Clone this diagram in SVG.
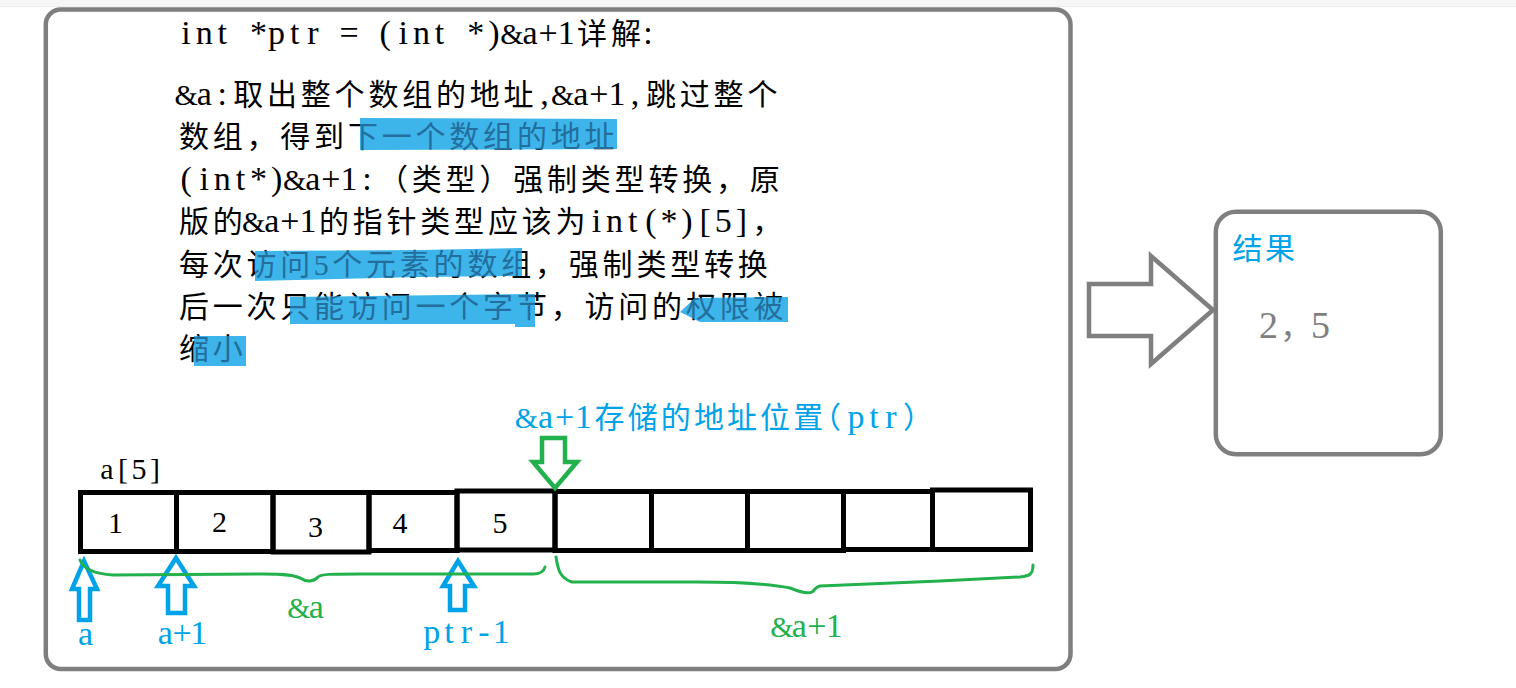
<svg xmlns="http://www.w3.org/2000/svg" xmlns:xlink="http://www.w3.org/1999/xlink" width="1516" height="688" viewBox="0 0 1516 688">
<style>
.t{font-family:"Liberation Serif","Noto Sans CJK SC",serif;font-size:30px;text-anchor:middle}
.lat{font-size:34px}
.amp{font-size:30px}
.box{fill:#fff;stroke:#7f7f7f;stroke-width:4.5}
.cell{fill:none;stroke:#000;stroke-width:5}
.barrow{fill:#fff;stroke:#00a2e8;stroke-width:4.5;stroke-linejoin:miter}
.garrow{fill:#fff;stroke:#22b14c;stroke-width:4.5;stroke-linejoin:miter}
.gray{fill:#fff;stroke:#7f7f7f;stroke-width:4.5;stroke-linejoin:miter}
.brace{fill:none;stroke:#22b14c;stroke-width:3;stroke-linejoin:round;stroke-linecap:round}
.hl{fill:#3db5ea}
.blue{fill:#00a2e8}
.green{fill:#22b14c}
</style>
<defs>
<path id="h1" d="M360,118 L617,119 L617,149 L360,150 Z"/>
<path id="h2" d="M255,251 L420,250 L522,248 L522,276 L420,277 L255,281 Z"/>
<path id="h3" d="M290,297 L535,294 L535,327 L515,327 L515,324 L290,324 Z"/>
<path id="h4" d="M680,312 L695,298 L788,297 L788,322 L700,322 Z"/>
<path id="h5" d="M194,336 L246,336 L246,366 L194,366 Z"/>
<clipPath id="hlc">
<use xlink:href="#h1"/><use xlink:href="#h2"/><use xlink:href="#h3"/><use xlink:href="#h4"/><use xlink:href="#h5"/>
</clipPath>
<g id="para">
<text class="t" y="43.5"><tspan class="lat" x="186.1 204.2 222.3 240.4 258.5 276.6 294.7 312.8 330.9 349 367.1 385.2 403.3 421.4 439.5 457.6 475.7 493.8 511.9 530 548.1 566.2">int *ptr = (int *)<tspan class="amp">&amp;</tspan>a+1</tspan><tspan x="592.1 625.9">详解</tspan><tspan class="lat" x="648">:</tspan></text>
<text class="t" y="105"><tspan class="lat" x="186.1 204.2 222.3"><tspan class="amp">&amp;</tspan>a:</tspan><tspan x="248.2 282 315.8 349.6 383.4 417.2 451 484.8 518.6">取出整个数组的地址</tspan><tspan class="lat" x="544.6 562.7 580.8 598.9 617 635.1">,<tspan class="amp">&amp;</tspan>a+1,</tspan><tspan x="661 694.8 728.6 762.4">跳过整个</tspan></text>
<text class="t" y="147.4" x="193.9 227.7 261.5 295.3 329.1 362.9 396.7 430.5 464.3 498.1 531.9 565.7 599.5">数组，得到下一个数组的地址</text>
<text class="t" y="189.8"><tspan class="lat" x="186.1 204.2 222.3 240.4 258.5 276.6 294.7 312.8 330.9 349 367.1">(int*)<tspan class="amp">&amp;</tspan>a+1:</tspan><tspan x="393 426.8 460.6 494.4 528.2 562 595.8 629.6 663.4 697.2 731 764.8">（类型）强制类型转换，原</tspan></text>
<text class="t" y="232.2"><tspan x="193.9 227.7">版的</tspan><tspan class="lat" x="253.7 271.8 289.9 308"><tspan class="amp">&amp;</tspan>a+1</tspan><tspan x="333.9 367.7 401.5 435.3 469.1 502.9 536.7 570.5">的指针类型应该为</tspan><tspan class="lat" x="596.5 614.6 632.7 650.8 668.9 687 705.1 723.2 741.3">int(*)[5]</tspan><tspan x="767.2">，</tspan></text>
<text class="t" y="274.6" x="193.9 227.7 261.5 295.3 321.3 347.2 381 414.8 448.6 482.4 516.2 550 583.8 617.6 651.4 685.2 719 752.8">每次访问5个元素的数组，强制类型转换</text>
<text class="t" y="317" x="193.9 227.7 261.5 295.3 329.1 362.9 396.7 430.5 464.3 498.1 531.9 565.7 599.5 633.3 667.1 700.9 734.7 768.5">后一次只能访问一个字节，访问的权限被</text>
<text class="t" y="359.4" x="193.9 227.7">缩小</text>
</g>
</defs>
<rect x="0" y="0" width="1516" height="688" fill="#fff"/>
<rect x="0" y="0" width="1516" height="7" fill="#f6f6f6"/>
<line x1="0" y1="6.5" x2="1516" y2="6.5" stroke="#ececec" stroke-width="1"/>

<g id="main-panel">
<rect class="box" x="45.8" y="9.5" width="1024.7" height="659.5" rx="15"/>
</g>

<g id="explanation">
<use xlink:href="#para" fill="#000"/>
<use xlink:href="#h1" class="hl"/>
<use xlink:href="#h2" class="hl"/>
<use xlink:href="#h3" class="hl"/>
<use xlink:href="#h4" class="hl"/>
<use xlink:href="#h5" class="hl"/>
<use xlink:href="#para" fill="#236e9c" clip-path="url(#hlc)"/>
</g>

<g id="array">
<text class="t" y="479" font-size="31" x="107 123 139 155" fill="#000">a[5]</text>
<rect class="cell" x="80.5" y="492.5" width="96" height="59"/>
<rect class="cell" x="176.5" y="492.5" width="96.5" height="59"/>
<rect class="cell" x="273" y="492.5" width="96" height="59.5"/>
<rect class="cell" x="369" y="492.5" width="88" height="58"/>
<rect class="cell" x="457" y="491" width="98" height="59"/>
<rect class="cell" x="555" y="491.5" width="96.5" height="59"/>
<rect class="cell" x="651.5" y="491.5" width="96" height="59"/>
<rect class="cell" x="747.5" y="491.5" width="96" height="59"/>
<rect class="cell" x="843.5" y="491.5" width="89" height="58"/>
<rect class="cell" x="932.5" y="490" width="98" height="59.5"/>
<text class="t" font-size="32" x="115.5" y="533">1</text>
<text class="t" font-size="32" x="219.5" y="531.5">2</text>
<text class="t" font-size="32" x="315.5" y="536.5">3</text>
<text class="t" font-size="32" x="400" y="533">4</text>
<text class="t" font-size="32" x="500" y="532.5">5</text>
</g>

<g id="ptr-label">
<text class="t blue" y="428"><tspan class="lat" x="526.5 545.5 564.5 583.5"><tspan class="amp">&amp;</tspan>a+1</tspan><tspan x="609.6 642.7 675.8 708.9 742 775.1 808.2 826">存储的地址位置（</tspan><tspan class="lat" x="856 874 891">ptr</tspan><tspan x="918">）</tspan></text>
</g>

<g id="pointer-labels">
<text class="t blue lat" x="85.5" y="645">a</text>
<text class="t blue lat" x="165.3 182 198.7" y="644">a+1</text>
<text class="t blue lat" x="431.7 449.1 466.5 483.9 501.3" y="643">ptr-1</text>
<text class="t green lat" x="298.8 316.3" y="618"><tspan class="amp">&amp;</tspan>a</text>
<text class="t green lat" x="781.8 799.3 816.8 834.3" y="637"><tspan class="amp">&amp;</tspan>a+1</text>
</g>

<g id="result">
<rect class="box" x="1215.8" y="211.8" width="225" height="242.4" rx="20"/>
<text class="t blue" font-size="31" x="1247.5 1280" y="259">结果</text>
<text class="t" fill="#7f7f7f" y="338"><tspan font-size="38" x="1268.5">2</tspan><tspan font-size="32" x="1296">，</tspan><tspan font-size="38" x="1320.5">5</tspan></text>
</g>

<g id="connectors">
<polygon class="gray" points="1089,284 1151,284 1151,256 1213,310 1151,364 1151,336 1089,336"/>
<polygon class="garrow" points="542,438 565,438 565,462 577,462 555,488 533,462 542,462"/>
<polygon class="barrow" points="84,561 97,589 90,589 90,620 79,620 79,589 72,589"/>
<polygon class="barrow" points="176,558 194,586 185,586 185,613 168,613 168,586 158,586"/>
<polygon class="barrow" points="458,561 474,586 465,586 465,610 450,610 450,586 443,586"/>
<path class="brace" d="M80,560 C84,570 95,574 113,575 L263,574 C285,574 296,575 302,579 C306,582 314,582 318,577 C321,574 330,574 360,574 L533,574 C540,574 544,571 545,567"/>
<path class="brace" d="M556,557 C558,570 560,578 572,582 L697,582 C740,582 770,584 790,588 C800,592 808,594 812,592 C815,590 815,587 820,586 L940,581 L1020,577 C1030,576 1033,574 1033,565"/>
</g>
</svg>
